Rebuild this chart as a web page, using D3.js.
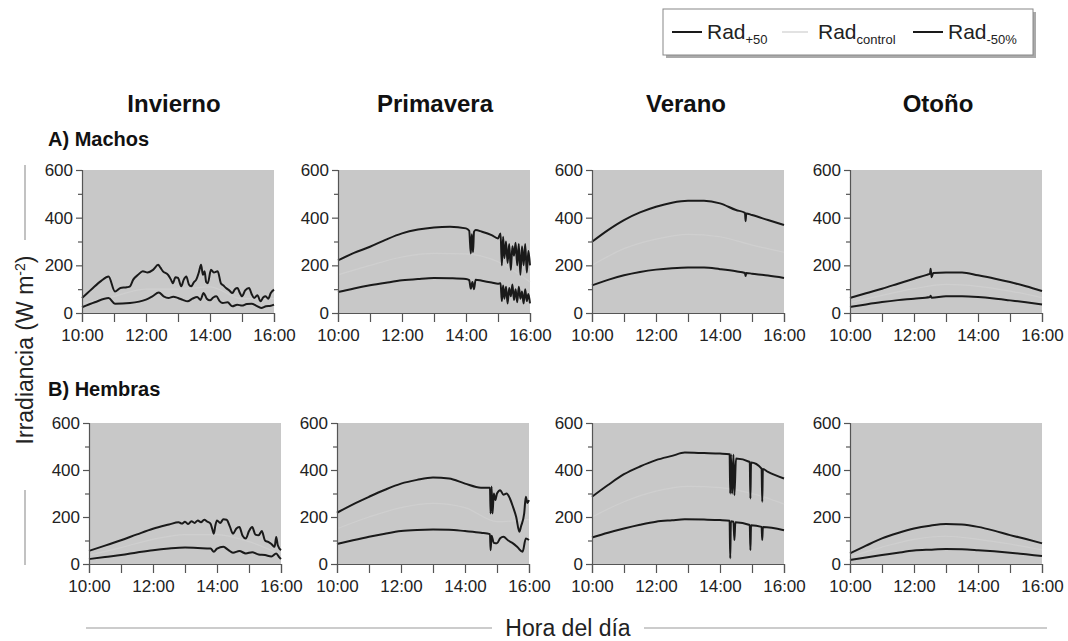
<!DOCTYPE html>
<html>
<head>
<meta charset="utf-8">
<script src="https://cdn.jsdelivr.net/npm/d3@7"></script>
<style>
  body { margin: 0; background: #fff; }
  svg text { font-family: Arial, "Liberation Sans", sans-serif; }
</style>
</head>
<body>
<svg id="chart" width="1068" height="641"></svg>
<script>
// ---- data (hours as decimal, irradiance in W m-2) ----
const seasons = ["Invierno", "Primavera", "Verano", "Otoño"];
const rowLabels = ["A) Machos", "B) Hembras"];
const yTicks = [0, 200, 400, 600];
const yMinorTicks = [100, 300, 500];
const xTicks = [10, 11, 12, 13, 14, 15, 16];
const controlHours = [10, 11, 12, 13, 14, 15, 16];

// A) Machos - Invierno
const invA_hiT = [10, 10.3, 10.6, 10.83, 11.03, 11.2, 11.4, 11.5, 11.6, 11.75, 11.9, 12.05, 12.22, 12.38, 12.45, 12.53, 12.69, 12.78, 12.84, 12.92, 13.0, 13.1, 13.18, 13.26, 13.34, 13.41, 13.5, 13.57, 13.65, 13.72, 13.78, 13.83, 13.88, 13.93, 14.03, 14.12, 14.24, 14.34, 14.42, 14.5, 14.6, 14.7, 14.78, 14.86, 14.93, 15.0, 15.1, 15.22, 15.3, 15.38, 15.48, 15.58, 15.66, 15.74, 15.82, 15.9, 16];
const invA_hi = [63, 100, 135, 153, 90, 105, 108, 112, 140, 160, 175, 170, 181, 202, 190, 175, 160, 140, 125, 150, 147, 112, 140, 153, 120, 112, 130, 140, 170, 202, 160, 175, 130, 125, 181, 170, 175, 125, 115, 105, 95, 84, 100, 105, 85, 70, 95, 105, 80, 63, 75, 49, 65, 70, 60, 84, 98];
const invA_loT = [10, 10.4, 10.83, 11.03, 11.5, 12.0, 12.2, 12.4, 12.55, 12.7, 12.85, 13.0, 13.15, 13.3, 13.45, 13.6, 13.7, 13.8, 13.9, 14.0, 14.1, 14.2, 14.3, 14.4, 14.55, 14.7, 14.85, 15.0, 15.15, 15.3, 15.45, 15.6, 15.75, 15.9, 16];
const invA_lo = [24, 45, 63, 39, 42, 56, 70, 86, 70, 63, 68, 63, 55, 49, 60, 67, 55, 84, 60, 53, 65, 70, 50, 42, 45, 28, 35, 31, 38, 39, 30, 21, 28, 30, 35];
const invA_ctl = [40, 70, 100, 100, 110, 60, 60];

// A) Machos - Primavera
const priA_hiT = [10, 10.5, 11, 11.5, 12, 12.5, 13, 13.5, 14.0, 14.1, 14.15, 14.18, 14.22, 14.25, 14.3, 14.5, 14.8, 15.0, 15.08, 15.12, 15.16, 15.2, 15.25, 15.3, 15.35, 15.4, 15.45, 15.5, 15.55, 15.6, 15.65, 15.7, 15.75, 15.8, 15.85, 15.9, 15.95, 16];
const priA_hi = [221, 252, 278, 308, 334, 350, 359, 362, 355, 345, 250, 330, 255, 340, 348, 341, 327, 313, 334, 200, 320, 230, 300, 210, 290, 180, 280, 240, 295, 200, 290, 160, 280, 200, 290, 170, 260, 200];
const priA_loT = [10, 10.5, 11, 11.5, 12, 12.5, 13, 13.5, 14.0, 14.1, 14.15, 14.2, 14.25, 14.3, 14.5, 14.8, 15.0, 15.08, 15.12, 15.16, 15.2, 15.25, 15.3, 15.35, 15.4, 15.45, 15.5, 15.55, 15.6, 15.65, 15.7, 15.75, 15.8, 15.85, 15.9, 15.95, 16];
const priA_lo = [88, 103, 116, 127, 137, 143, 147, 146, 143, 138, 102, 130, 100, 140, 135, 128, 123, 125, 50, 115, 60, 110, 40, 105, 70, 120, 55, 100, 45, 110, 60, 90, 40, 100, 50, 80, 40];
const priA_ctl = [160, 200, 235, 250, 248, 215, 130];

// A) Machos - Verano
const verA_hiT = [10, 10.5, 11, 11.5, 12, 12.5, 13, 13.5, 14, 14.5, 14.78, 14.8, 14.82, 15, 15.5, 16];
const verA_hi = [299, 348, 390, 422, 446, 463, 471, 471, 460, 432, 420, 385, 418, 411, 390, 369];
const verA_loT = [10, 10.5, 11, 11.5, 12, 12.5, 13, 13.5, 14, 14.5, 14.78, 14.8, 14.82, 15, 15.5, 16];
const verA_lo = [116, 139, 158, 172, 182, 188, 191, 191, 184, 175, 168, 155, 168, 165, 157, 147];
const verA_ctl = [200, 270, 310, 330, 320, 285, 255];

// A) Machos - Otoño
const otoA_hiT = [10, 10.5, 11, 11.5, 12, 12.4, 12.5, 12.52, 12.55, 12.6, 13, 13.5, 14, 14.5, 15, 15.5, 16];
const otoA_hi = [63, 83, 102, 123, 144, 160, 165, 186, 150, 168, 170, 170, 158, 145, 130, 112, 92];
const otoA_loT = [10, 10.5, 11, 11.5, 12, 12.5, 12.52, 12.55, 13, 13.5, 14, 14.5, 15, 15.5, 16];
const otoA_lo = [25, 36, 46, 54, 60, 67, 72, 64, 70, 70, 67, 61, 53, 45, 36];
const otoA_ctl = [44, 74, 102, 120, 112, 92, 64];

// B) Hembras - Invierno
const invB_hiT = [10, 10.5, 11, 11.5, 12, 12.5, 12.8, 12.9, 13.0, 13.1, 13.2, 13.3, 13.4, 13.5, 13.6, 13.7, 13.8, 13.85, 13.9, 13.95, 14.0, 14.1, 14.2, 14.3, 14.4, 14.5, 14.6, 14.7, 14.8, 14.9, 15.0, 15.1, 15.2, 15.3, 15.4, 15.5, 15.6, 15.7, 15.8, 15.85, 15.9, 16];
const invB_hi = [56, 78, 101, 126, 150, 168, 178, 172, 180, 170, 182, 175, 185, 178, 188, 180, 171, 150, 129, 165, 185, 175, 190, 188, 160, 129, 150, 157, 120, 108, 140, 157, 125, 122, 140, 100, 94, 85, 73, 115, 80, 59];
const invB_loT = [10, 10.5, 11, 11.5, 12, 12.5, 13, 13.4, 13.8, 13.9, 14.0, 14.2, 14.35, 14.5, 14.7, 14.9, 15.1, 15.3, 15.5, 15.7, 15.85, 15.95, 16];
const invB_lo = [21, 30, 38, 49, 59, 66, 70, 68, 66, 52, 65, 73, 60, 48, 55, 45, 50, 40, 38, 32, 45, 28, 21];
const invB_ctl = [38, 70, 105, 125, 125, 95, 40];

// B) Hembras - Primavera
const priB_hiT = [10, 10.5, 11, 11.5, 12, 12.5, 13, 13.5, 14, 14.5, 14.78, 14.8, 14.83, 14.86, 14.9, 14.95, 15.0, 15.1, 15.2, 15.3, 15.4, 15.5, 15.6, 15.7, 15.75, 15.85, 15.9, 15.95, 16];
const priB_hi = [218, 254, 286, 316, 342, 358, 368, 364, 342, 325, 325, 215, 330, 215, 300, 272, 300, 314, 295, 300, 280, 243, 200, 137, 160, 215, 286, 260, 272];
const priB_loT = [10, 10.5, 11, 11.5, 12, 12.5, 13, 13.5, 14, 14.5, 14.78, 14.8, 14.83, 14.9, 15.0, 15.1, 15.2, 15.35, 15.5, 15.65, 15.8, 15.9, 16];
const priB_lo = [85, 101, 116, 129, 140, 145, 147, 146, 140, 133, 127, 59, 120, 90, 88, 110, 116, 100, 88, 70, 52, 109, 102];
const priB_ctl = [150, 200, 240, 258, 240, 180, 190];

// B) Hembras - Verano
const verB_hiT = [10, 10.5, 11, 11.5, 12, 12.5, 12.9, 13.5, 14, 14.3, 14.32, 14.34, 14.38, 14.42, 14.45, 14.5, 14.93, 14.95, 14.97, 15.3, 15.32, 15.34, 15.5, 16];
const verB_hi = [286, 336, 382, 415, 442, 460, 474, 472, 470, 467, 300, 467, 300, 465, 293, 449, 434, 279, 432, 406, 265, 404, 392, 364];
const verB_loT = [10, 10.5, 11, 11.5, 12, 12.5, 12.9, 13.5, 14, 14.3, 14.32, 14.34, 14.42, 14.45, 14.48, 14.93, 14.95, 14.97, 15.3, 15.32, 15.34, 16];
const verB_lo = [113, 133, 151, 167, 180, 186, 190, 189, 187, 184, 24, 182, 180, 102, 178, 166, 59, 165, 158, 102, 157, 144];
const verB_ctl = [200, 265, 310, 330, 325, 300, 255];

// B) Hembras - Otoño
const otoB_hiT = [10, 10.5, 11, 11.5, 12, 12.5, 13, 13.5, 14, 14.5, 15, 15.5, 16];
const otoB_hi = [45, 78, 109, 132, 151, 163, 170, 168, 158, 142, 123, 106, 88];
const otoB_loT = [10, 10.5, 11, 11.5, 12, 12.5, 13, 13.5, 14, 14.5, 15, 15.5, 16];
const otoB_lo = [17, 28, 38, 48, 57, 61, 64, 63, 59, 54, 48, 41, 34];
const otoB_ctl = [30, 72, 105, 118, 105, 85, 60];

const panels = [
  { row: 0, col: 0, hi: d3.zip(invA_hiT, invA_hi), lo: d3.zip(invA_loT, invA_lo), ctl: d3.zip(controlHours, invA_ctl) },
  { row: 0, col: 1, hi: d3.zip(priA_hiT, priA_hi), lo: d3.zip(priA_loT, priA_lo), ctl: d3.zip(controlHours, priA_ctl) },
  { row: 0, col: 2, hi: d3.zip(verA_hiT, verA_hi), lo: d3.zip(verA_loT, verA_lo), ctl: d3.zip(controlHours, verA_ctl) },
  { row: 0, col: 3, hi: d3.zip(otoA_hiT, otoA_hi), lo: d3.zip(otoA_loT, otoA_lo), ctl: d3.zip(controlHours, otoA_ctl) },
  { row: 1, col: 0, hi: d3.zip(invB_hiT, invB_hi), lo: d3.zip(invB_loT, invB_lo), ctl: d3.zip(controlHours, invB_ctl) },
  { row: 1, col: 1, hi: d3.zip(priB_hiT, priB_hi), lo: d3.zip(priB_loT, priB_lo), ctl: d3.zip(controlHours, priB_ctl) },
  { row: 1, col: 2, hi: d3.zip(verB_hiT, verB_hi), lo: d3.zip(verB_loT, verB_lo), ctl: d3.zip(controlHours, verB_ctl) },
  { row: 1, col: 3, hi: d3.zip(otoB_hiT, otoB_hi), lo: d3.zip(otoB_loT, otoB_lo), ctl: d3.zip(controlHours, otoB_ctl) },
];

// ---- layout ----
const colLeft = [[82, 338, 592, 850], [89, 337, 592, 850]];
const plotW = 192;
const rowTop = [170, 423];
const rowBottom = [313, 564];
const titleX = [174, 435, 686, 938];

const svg = d3.select("#chart");

// season titles
svg.selectAll(".season")
  .data(seasons)
  .enter()
  .append("text")
  .attr("x", (d, i) => titleX[i])
  .attr("y", 112)
  .attr("text-anchor", "middle")
  .style("font-size", "24px")
  .style("font-weight", "bold")
  .style("fill", "#111")
  .text(d => d);

// row labels
svg.selectAll(".rowlabel")
  .data(rowLabels)
  .enter()
  .append("text")
  .attr("x", 48)
  .attr("y", (d, i) => [146, 396][i])
  .style("font-size", "20px")
  .style("font-weight", "bold")
  .style("fill", "#111")
  .text(d => d);

const hourFmt = d => (d % 2 === 0 ? d + ":00" : "");

panels.forEach(p => {
  const left = colLeft[p.row][p.col];
  const top = rowTop[p.row];
  const bottom = rowBottom[p.row];

  const x = d3.scaleLinear().domain([10, 16]).range([left, left + plotW]);
  const y = d3.scaleLinear().domain([0, 600]).range([bottom, top]);

  const g = svg.append("g");

  g.append("rect")
    .attr("x", x(10))
    .attr("y", y(600))
    .attr("width", x(16) - x(10))
    .attr("height", y(0) - y(600))
    .attr("fill", "#c8c8c8");

  const line = d3.line()
    .x(d => x(d[0]))
    .y(d => y(d[1]))
    .curve(d3.curveMonotoneX);

  // control series: very light, nearly lost in the background
  g.append("path")
    .attr("d", line(p.ctl))
    .attr("fill", "none")
    .attr("stroke", "#cfcfcf")
    .attr("stroke-width", 1.2);

  [p.hi, p.lo].forEach(s => {
    g.append("path")
      .attr("d", line(s))
      .attr("fill", "none")
      .attr("stroke", "#1a1a1a")
      .attr("stroke-width", 2)
      .attr("stroke-linejoin", "round");
  });

  // y axis
  g.append("g")
    .attr("transform", `translate(${left},0)`)
    .call(d3.axisLeft(y).tickValues(yTicks).tickSize(6).tickPadding(3));
  g.append("g")
    .attr("transform", `translate(${left},0)`)
    .call(d3.axisLeft(y).tickValues(yMinorTicks).tickSize(4).tickFormat(""))
    .call(a => a.select(".domain").remove());

  // x axis
  g.append("g")
    .attr("transform", `translate(0,${bottom})`)
    .call(d3.axisBottom(x).tickValues(xTicks).tickSize(9).tickPadding(7).tickFormat(hourFmt));

  g.selectAll(".domain, .tick line").attr("stroke", "#555").attr("stroke-width", 1.2);
  g.selectAll(".tick text")
    .style("font-size", "17px")
    .style("fill", "#222")
    .style("font-family", "Arial, 'Liberation Sans', sans-serif");
});

// y axis title with side rules
svg.append("text")
  .attr("transform", "translate(33,350) rotate(-90)")
  .attr("text-anchor", "middle")
  .style("font-size", "23px")
  .style("fill", "#222")
  .html('Irradiancia (W m<tspan dy="-8" font-size="14px">-2</tspan><tspan dy="8">)</tspan>');

svg.append("line").attr("x1", 25).attr("x2", 25).attr("y1", 165).attr("y2", 240)
  .attr("stroke", "#999").attr("stroke-width", 1.2);
svg.append("line").attr("x1", 25).attr("x2", 25).attr("y1", 490).attr("y2", 565)
  .attr("stroke", "#999").attr("stroke-width", 1.2);

// x axis title with side rules
svg.append("text")
  .attr("x", 568)
  .attr("y", 636)
  .attr("text-anchor", "middle")
  .style("font-size", "23px")
  .style("fill", "#222")
  .text("Hora del día");

svg.append("line").attr("x1", 86).attr("x2", 492).attr("y1", 628).attr("y2", 628)
  .attr("stroke", "#999").attr("stroke-width", 1.2);
svg.append("line").attr("x1", 644).attr("x2", 1047).attr("y1", 628).attr("y2", 628)
  .attr("stroke", "#999").attr("stroke-width", 1.2);

// legend
const legend = svg.append("g");
legend.append("rect")
  .attr("x", 666).attr("y", 12).attr("width", 370).attr("height", 46)
  .attr("fill", "#aaa");
legend.append("rect")
  .attr("x", 663).attr("y", 9).attr("width", 370).attr("height", 46)
  .attr("fill", "#fff").attr("stroke", "#888").attr("stroke-width", 1);

const legendItems = [
  { x1: 672, x2: 702, tx: 707, sub: "+50", color: "#1a1a1a" },
  { x1: 782, x2: 808, tx: 818, sub: "control", color: "#e2e2e2" },
  { x1: 913, x2: 943, tx: 948, sub: "-50%", color: "#1a1a1a" },
];
legendItems.forEach(it => {
  legend.append("line")
    .attr("x1", it.x1).attr("x2", it.x2).attr("y1", 32).attr("y2", 32)
    .attr("stroke", it.color).attr("stroke-width", 2);
  legend.append("text")
    .attr("x", it.tx).attr("y", 39)
    .style("font-size", "21px")
    .style("fill", "#222")
    .html(`Rad<tspan dy="5" font-size="13px">${it.sub}</tspan>`);
});
</script>
</body>
</html>
